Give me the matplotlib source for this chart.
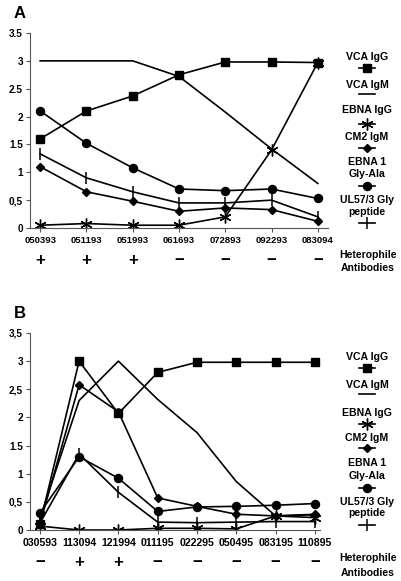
import matplotlib
matplotlib.use("Agg")
import matplotlib.pyplot as plt
from matplotlib.lines import Line2D
from matplotlib.transforms import blended_transform_factory

plt.rcParams['font.family'] = ['Liberation Sans', 'DejaVu Sans']
plt.rcParams['font.weight'] = 'bold'

# ---------------- Panel A data ----------------
dates_a = ["050393", "051193", "051993", "061693", "072893", "092293", "083094"]
vca_igg_a = [1.6, 2.1, 2.37, 2.75, 2.98, 2.98, 2.97]
vca_igm_a = [3.0, 3.0, 3.0, 2.72, 2.08, 1.42, 0.8]
ebna_igg_a = [0.05, 0.08, 0.05, 0.05, 0.2, 1.4, 2.97]
cm2_igm_a = [1.1, 0.65, 0.48, 0.3, 0.36, 0.33, 0.12]
ebna1_a = [2.1, 1.52, 1.08, 0.7, 0.67, 0.7, 0.53]
ul57_a = [1.33, 0.9, 0.65, 0.45, 0.45, 0.5, 0.2]
hetero_a = ["+", "+", "+", "−", "−", "−", "−"]
yticks_a = ["0", "0,5", "1", "1.5", "2", "2.5", "3", "3.5"]

# ---------------- Panel B data ----------------
dates_b = ["030593", "113094", "121994", "011195", "022295", "050495", "083195", "110895"]
vca_igg_b = [0.1, 3.0, 2.07, 2.8, 2.98, 2.98, 2.98, 2.98]
vca_igm_b = [0.2, 2.3, 3.0, 2.32, 1.73, 0.86, 0.25, 0.27]
ebna_igg_b = [0.07, 0.0, 0.0, 0.03, 0.03, 0.02, 0.25, 0.22]
cm2_igm_b = [0.1, 2.58, 2.1, 0.57, 0.42, 0.28, 0.25, 0.28]
ebna1_b = [0.3, 1.3, 0.92, 0.33, 0.41, 0.42, 0.44, 0.47]
ul57_b = [0.12, 1.35, 0.67, 0.14, 0.13, 0.14, 0.15, 0.15]
hetero_b = ["−", "+", "+", "−", "−", "−", "−", "−"]
yticks_b = ["0", "0,5", "1", "1.5", "2", "2,5", "3", "3,5"]

ytick_vals = [0, 0.5, 1, 1.5, 2, 2.5, 3, 3.5]

W, H = 401, 581
fig = plt.figure(figsize=(W / 100, H / 100), dpi=100)

LW = 1.2
styles = [
    dict(marker='s', ms=5.2),
    dict(marker=None),
    dict(marker=(6, 2, 0), ms=8.5, mew=1.0),
    dict(marker='D', ms=4.2),
    dict(marker='o', ms=5.8),
    dict(marker='|', ms=9, mew=1.1),
]
legend_labels = [["VCA IgG"], ["VCA IgM"], ["EBNA IgG"], ["CM2 IgM"],
                 ["EBNA 1", "Gly-Ala"], ["UL57/3 Gly", "peptide"]]


def px2fig_y(py):
    return 1 - py / H


def make_panel(rect, dates, series, hetero, ylabels, xlim, xfs, letter, letter_y,
               hetero_y, het_text_y, leg_rows):
    ax = fig.add_axes(rect)
    x = list(range(len(dates)))
    for s, st in zip(series, styles):
        ax.plot(x, s, color='black', lw=LW, markerfacecolor='black',
                markeredgecolor='black', **st)
    ax.set_xlim(*xlim)
    ax.set_ylim(0, 3.5)
    ax.set_xticks(x)
    ax.set_xticklabels(dates, fontsize=xfs, fontweight='bold')
    ax.set_yticks(ytick_vals)
    ax.set_yticklabels(ylabels, fontsize=7.2, fontweight='bold')
    for sp in ['top', 'right']:
        ax.spines[sp].set_visible(False)
    for sp in ['left', 'bottom']:
        ax.spines[sp].set_color('#555555')
        ax.spines[sp].set_linewidth(0.8)
    ax.tick_params(axis='both', length=3, width=0.8, color='#555555', pad=2)
    ax.tick_params(axis='x', pad=3)
    # Heterophile signs
    tr = blended_transform_factory(ax.transData, fig.transFigure)
    for i, h in enumerate(hetero):
        ax.text(i, px2fig_y(hetero_y), h, transform=tr, ha='center', va='center',
                fontsize=12, fontweight='bold')
    fig.text(368 / W, px2fig_y(het_text_y[0]), "Heterophile", ha='center',
             va='center', fontsize=7.5, fontweight='bold')
    fig.text(368 / W, px2fig_y(het_text_y[1]), "Antibodies", ha='center',
             va='center', fontsize=7.5, fontweight='bold')
    fig.text(20 / W, px2fig_y(letter_y), letter, ha='center', va='center',
             fontsize=12, fontweight='bold')
    # legend
    for (texts_y, mark_y), labels, st in zip(leg_rows, legend_labels, styles):
        for ty, lab in zip(texts_y, labels):
            fig.text(367 / W, px2fig_y(ty), lab, ha='center', va='center',
                     fontsize=7.6, fontweight='bold')
        xs = [359 / W, 367 / W, 375 / W]
        ys = [px2fig_y(mark_y)] * 3
        kw = dict(st)
        if kw.get('marker') is not None:
            kw['markevery'] = [1]
        ln = Line2D(xs, ys, transform=fig.transFigure, color='black', lw=LW,
                    markerfacecolor='black', markeredgecolor='black', **kw)
        fig.add_artist(ln)
    return ax


# Panel A
a_bottom = px2fig_y(228)
a_top = px2fig_y(33)
make_panel([30 / W, a_bottom, (328 - 30) / W, a_top - a_bottom], dates_a,
           [vca_igg_a, vca_igm_a, ebna_igg_a, cm2_igm_a, ebna1_a, ul57_a],
           hetero_a, yticks_a, (-0.22, 6.22), 6.8, "A", 13, 260, (255, 268),
           [((57,), 68), ((85,), 94), ((110,), 124), ((137,), 148),
            ((162, 174), 186), ((200, 212), 223)])

# Panel B
b_bottom = px2fig_y(530)
b_top = px2fig_y(333)
make_panel([30 / W, b_bottom, (320 - 30) / W, b_top - b_bottom], dates_b,
           [vca_igg_b, vca_igm_b, ebna_igg_b, cm2_igm_b, ebna1_b, ul57_b],
           hetero_b, yticks_b, (-0.25, 7.13), 7.6, "B", 313, 563, (558, 573),
           [((357,), 368), ((385,), 394), ((413,), 424), ((438,), 448),
            ((463, 476), 488), ((502, 513), 525)])

fig.savefig("out.png", dpi=100, facecolor='white')
